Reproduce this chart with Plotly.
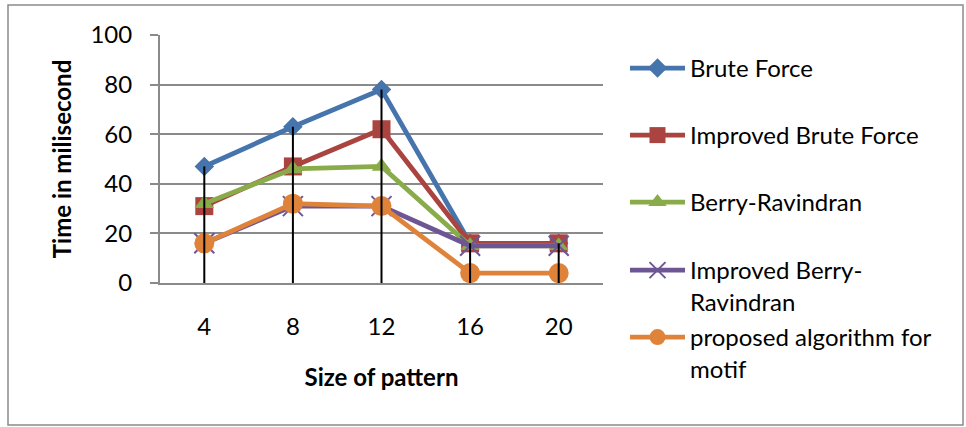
import plotly.graph_objects as go

# Pattern sizes on the category axis
pattern_sizes = ["4", "8", "12", "16", "20"]

# Running time (ms) per algorithm
brute_force = [47, 63, 78, 16, 16]
improved_brute_force = [31, 47, 62, 16, 16]
berry_ravindran = [32, 46, 47, 15, 15]
improved_berry_ravindran = [16, 31, 31, 15, 15]
proposed_motif = [16, 32, 31, 4, 4]

y_ticks = [0, 20, 40, 60, 80, 100]

FONT = "Lato"
W, H = 966, 427
M_L, M_R, M_T, M_B = 160, 363, 35, 144
PW = W - M_L - M_R
PH = H - M_T - M_B


def px_to_paper_x(px):
    return (px - M_L) / PW


def px_to_paper_y(py):
    return (H - M_B - py) / PH


series = [
    ("Brute Force", brute_force, "#4674AC", "diamond", 15, None),
    ("Improved Brute Force", improved_brute_force, "#AA4441", "square", 18, None),
    ("Berry-Ravindran", berry_ravindran, "#8AAB4A", "triangle-up", 17, None),
    ("Improved Berry-<br>Ravindran", improved_berry_ravindran, "#6E5694", "x-thin", 20, 2),
    ("proposed algorithm for<br>motif", proposed_motif, "#E0833A", "circle", 20, None),
]

# legend rows (first-line centre, px)
legend_rows = [68, 135, 202, 270, 337]

fig = go.Figure()

for i, (name, vals, color, sym, size, lw) in enumerate(series):
    marker = dict(symbol=sym, size=size, color=color)
    if lw:
        marker["line"] = dict(color=color, width=lw)
    fig.add_trace(go.Scatter(
        x=pattern_sizes, y=vals, name=name, mode="lines+markers",
        line=dict(color=color, width=4.8),
        marker=marker,
        legend="legend" if i == 0 else f"legend{i + 1}",
    ))

# drop lines from the highest value at each pattern size down to the axis
drop_x, drop_y = [], []
for j, cat in enumerate(pattern_sizes):
    top = max(s[1][j] for s in series)
    drop_x += [cat, cat, None]
    drop_y += [top, 0, None]
fig.add_trace(go.Scatter(
    x=drop_x, y=drop_y, mode="lines", showlegend=False,
    line=dict(color="black", width=2), hoverinfo="skip",
))

legend_common = dict(
    font=dict(family=FONT, size=24, color="black"),
    bgcolor="rgba(0,0,0,0)", borderwidth=0,
    xanchor="left", yanchor="top", valign="top",
    itemwidth=55, itemclick=False,
)
layout_legends = {}
for i, row in enumerate(legend_rows):
    key = "legend" if i == 0 else f"legend{i + 1}"
    layout_legends[key] = dict(
        legend_common,
        x=px_to_paper_x(625),
        y=px_to_paper_y(row - 22),
    )

fig.update_layout(
    width=W, height=H,
    margin=dict(l=M_L, r=M_R, t=M_T, b=M_B, pad=0),
    paper_bgcolor="white", plot_bgcolor="white",
    font=dict(family=FONT, size=24, color="black"),
    showlegend=True,
    **layout_legends,
    xaxis=dict(
        type="category", categoryarray=pattern_sizes, range=[-0.5, 4.5],
        showgrid=False, zeroline=False,
        showline=True, linecolor="#8A8A8A", linewidth=2,
        ticks="", ticklabelstandoff=21,
        tickfont=dict(family=FONT, size=24),
        title=dict(text="<b>Size of pattern</b>", standoff=30,
                   font=dict(family=FONT, size=24)),
        automargin=True,
    ),
    yaxis=dict(
        range=[0, 100], tickvals=y_ticks,
        showgrid=True, gridcolor="#8A8A8A", gridwidth=2,
        zeroline=False,
        showline=True, linecolor="#8A8A8A", linewidth=2,
        ticks="outside", ticklen=8, tickwidth=2, tickcolor="#8A8A8A",
        ticklabelstandoff=13,
        tickfont=dict(family=FONT, size=24),
        title=dict(text="<b>Time in milisecond</b>", standoff=12,
                   font=dict(family=FONT, size=24)),
        automargin=True,
    ),
    shapes=[dict(
        type="rect", xref="paper", yref="paper",
        x0=px_to_paper_x(8), x1=px_to_paper_x(963),
        y0=px_to_paper_y(425), y1=px_to_paper_y(5),
        line=dict(color="#8A8A8A", width=1.5), fillcolor="rgba(0,0,0,0)",
        layer="below",
    )],
)

fig.write_html("out.html")
